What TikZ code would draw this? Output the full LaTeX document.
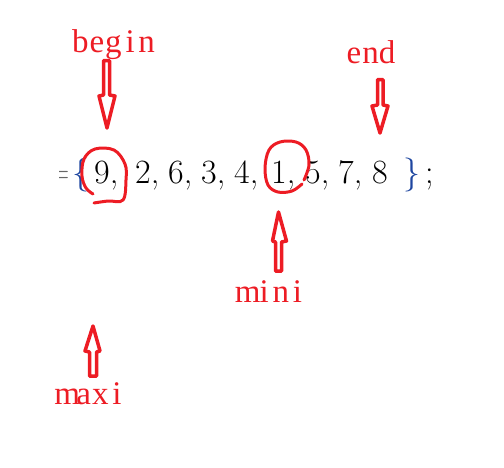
\documentclass[tikz,border=0pt]{standalone}
\usepackage{fontspec}
\newfontfamily\lab{Liberation Serif}
\definecolor{pred}{RGB}{237,28,36}
\definecolor{bblue}{RGB}{30,70,160}
\newcommand{\cel}[1]{\makebox[16.6pt]{#1}}
\begin{document}
\begin{tikzpicture}[x=1pt,y=-1pt,
  lbl/.style={text=pred,font=\lab\fontsize{33}{36}\selectfont,inner sep=0pt,anchor=base},
  num/.style={font=\fontsize{34}{40}\selectfont,inner sep=0pt,anchor=base west},
  harrow/.style={draw=pred,line width=3.5pt,line join=round},
  loop/.style={draw=pred,line width=3pt,line cap=round}]
\useasboundingbox (0,0) rectangle (504,467);
% labels
\node[lbl] (begin) at (113.5,52) {\cel{b}\cel{e}\cel{g}\cel{i}\cel{n}};
\node[lbl] (end) at (370.5,63) {\cel{e}\cel{n}\cel{d}};
\node[lbl] (mini) at (272.5,302) {\cel{m}\cel{i}\cel{n}\cel{i}};
\node[lbl] (maxi) at (92,404) {\cel{m}\cel{a}\cel{x}\cel{i}};
% array text
\begin{scope}
\clip (59,150) rectangle (67,190);
\node[num,text=black!60] (eq) at (45,183) {=};
\end{scope}
\node[num,text=bblue] (lb) at (72,183) {\{};
\node[num] (n9) at (94,183) {9,};
\node[num] (n2) at (135,183) {2,};
\node[num] (n6) at (168,183) {6,};
\node[num] (n3) at (201,183) {3,};
\node[num] (n4) at (234,183) {4,};
\node[num] (n1) at (271,183) {1,};
\node[num] (n5) at (305,183) {5,};
\node[num] (n7) at (338,183) {7,};
\node[num] (n8) at (372,183) {8};
\node[num,text=bblue] (rb) at (403,183) {\}};
\node[num] (semi) at (425,183) {;};
% arrows
\draw[harrow] (103.5,60.5) -- (109.5,60.5) -- (109.5,95) -- (115,96) -- (107,128) -- (99,96) -- (103.5,95) -- cycle;
\draw[harrow] (377.5,79.5) -- (383,79.5) -- (383,105) -- (388,106) -- (380,133) -- (372,106) -- (377.5,105) -- cycle;
\draw[harrow] (275.5,271) -- (281.5,271) -- (281.5,242) -- (286.5,241) -- (278.5,212) -- (272.5,241) -- (275.5,242) -- cycle;
\draw[harrow] (89.5,376) -- (96.5,376) -- (96.5,352) -- (100,351) -- (93,326) -- (85,351) -- (89.5,352) -- cycle;
% loops
\draw[loop] plot[smooth,tension=0.6] coordinates {(94,203) (108,201) (123,200) (126,180) (125,164) (114,150) (95,149) (84,159) (82,176) (86,188) (93,194)};
\draw[loop] plot[smooth,tension=0.6] coordinates {(304,180) (309,165) (306,150) (296,142) (280,142) (269,150) (265,168) (268,185) (278,192) (292,191) (302,184)};
\end{tikzpicture}
\end{document}
